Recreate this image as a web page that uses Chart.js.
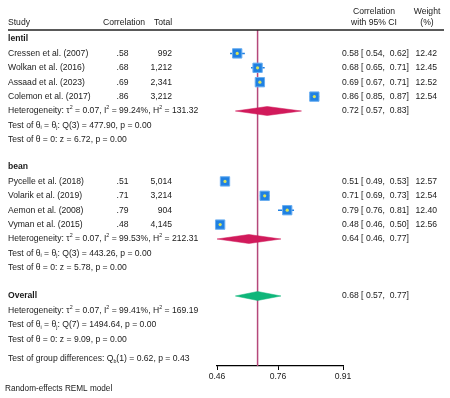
<!DOCTYPE html>
<html>
<head>
<meta charset="utf-8">
<script src="https://cdn.jsdelivr.net/npm/chart.js@4.4.1/dist/chart.umd.min.js"></script>
<style>
html, body { margin: 0; padding: 0; background: #fff; }
#wrap { position: relative; width: 450px; height: 398px; }
</style>
</head>
<body>
<div id="wrap"><canvas id="forest"></canvas></div>
<script>
// values
const lentilStudies = ['Cressen et al. (2007)', 'Wolkan et al. (2016)', 'Assaad et al. (2023)', 'Colemon et al. (2017)'];
const lentilR = [0.58, 0.68, 0.69, 0.86];
const lentilLo = [0.54, 0.65, 0.67, 0.85];
const lentilHi = [0.62, 0.71, 0.71, 0.87];
const lentilN = [992, 1212, 2341, 3212];
const lentilW = [12.42, 12.45, 12.52, 12.54];
const lentilPooled = [0.72, 0.57, 0.83];
const lentilStats = [
    'Heterogeneity: τ^{2} = 0.07, I^{2} = 99.24%, H^{2} = 131.32',
    'Test of θ_{i} = θ_{j}: Q(3) = 477.90, p = 0.00',
    'Test of θ = 0: z = 6.72, p = 0.00'
];

const beanStudies = ['Pycelle et al. (2018)', 'Volarik et al. (2019)', 'Aemon et al. (2008)', 'Vyman et al. (2015)'];
const beanR = [0.51, 0.71, 0.79, 0.48];
const beanLo = [0.49, 0.69, 0.76, 0.46];
const beanHi = [0.53, 0.73, 0.81, 0.50];
const beanN = [5014, 3214, 904, 4145];
const beanW = [12.57, 12.54, 12.40, 12.56];
const beanPooled = [0.64, 0.46, 0.77];
const beanStats = [
    'Heterogeneity: τ^{2} = 0.07, I^{2} = 99.53%, H^{2} = 212.31',
    'Test of θ_{i} = θ_{j}: Q(3) = 443.26, p = 0.00',
    'Test of θ = 0: z = 5.78, p = 0.00'
];

const overallPooled = [0.68, 0.57, 0.77];
const overallStats = [
    'Heterogeneity: τ^{2} = 0.07, I^{2} = 99.41%, H^{2} = 169.19',
    'Test of θ_{i} = θ_{j}: Q(7) = 1494.64, p = 0.00',
    'Test of θ = 0: z = 9.09, p = 0.00'
];
const groupTest = 'Test of group differences: Q_{b}(1) = 0.62, p = 0.43';
const footNote = 'Random-effects REML model';

const tickValues = [0.46, 0.76, 0.91];

// layout
const FONT = '"Liberation Sans", Arial, Helvetica, sans-serif';
const FS = 8.6;
const TEXT = '#1a1a1a';
const AREA_TOP = 30, AREA_BOTTOM = 366, FIRST_ROW = 39, ROW = 14.4;
const COL = { study: 8, corr: 128.5, total: 172, ci: 342, weight: 437 };
const SQUARE = '#1f80e2', DOT = '#d9e35a', LINE = '#b5487a';
const GROUP_COLOR = '#d11a5b', OVERALL_COLOR = '#0fb67a';

const z = v => Math.atanh(v);
const f2 = v => v.toFixed(2);
const ciText = p => `${f2(p[0])} [ ${f2(p[1])},  ${f2(p[2])}]`;

const rows = [];
const marks = [];
const diamonds = [];
let r = 0;

function addGroup(name, studies, est, lo, hi, n, w, pooled, stats) {
    rows.push({ r, cells: [[name, COL.study, 'left', true]] });
    r++;
    studies.forEach((s, i) => {
        rows.push({ r, cells: [
            [s, COL.study, 'left'],
            [f2(est[i]).replace(/^0/, ''), COL.corr, 'right'],
            [n[i].toLocaleString('en-US'), COL.total, 'right'],
            [ciText([est[i], lo[i], hi[i]]), COL.ci, 'left'],
            [f2(w[i]), COL.weight, 'right']
        ] });
        marks.push({ r, est: est[i], lo: lo[i], hi: hi[i] });
        r++;
    });
    rows.push({ r, cells: [[stats[0], COL.study, 'left'], [ciText(pooled), COL.ci, 'left']] });
    diamonds.push({ r, p: pooled, color: GROUP_COLOR });
    r++;
    rows.push({ r, cells: [[stats[1], COL.study, 'left']] }); r++;
    rows.push({ r, cells: [[stats[2], COL.study, 'left']] });
}

addGroup('lentil', lentilStudies, lentilR, lentilLo, lentilHi, lentilN, lentilW, lentilPooled, lentilStats);
r += 1.889;
addGroup('bean', beanStudies, beanR, beanLo, beanHi, beanN, beanW, beanPooled, beanStats);
r += 1.958;
rows.push({ r, cells: [['Overall', COL.study, 'left', true], [ciText(overallPooled), COL.ci, 'left']] });
diamonds.push({ r, p: overallPooled, color: OVERALL_COLOR });
overallStats.forEach(s => { r++; rows.push({ r, cells: [[s, COL.study, 'left']] }); });
r += 1.375;
rows.push({ r, cells: [[groupTest, COL.study, 'left']] });

const yMin = (AREA_TOP - FIRST_ROW) / ROW;
const yMax = (AREA_BOTTOM - FIRST_ROW) / ROW;
const DH = 4.5 / ROW;

function drawRich(ctx, text, x, y, align, bold, size) {
    const fs = size || FS;
    const segs = text.split(/(\^\{[^}]*\}|_\{[^}]*\})/).filter(s => s.length).map(p => {
        if (p.startsWith('^{')) return { t: p.slice(2, -1), size: fs * 0.62, dy: -fs * 0.38 };
        if (p.startsWith('_{')) return { t: p.slice(2, -1), size: fs * 0.62, dy: fs * 0.28 };
        return { t: p, size: fs, dy: 0 };
    });
    let total = 0;
    segs.forEach(s => {
        ctx.font = (bold ? 'bold ' : '') + s.size + 'px ' + FONT;
        s.w = ctx.measureText(s.t).width;
        total += s.w;
    });
    let cx = align === 'right' ? x - total : align === 'center' ? x - total / 2 : x;
    segs.forEach(s => {
        ctx.font = (bold ? 'bold ' : '') + s.size + 'px ' + FONT;
        ctx.fillText(s.t, cx, y + s.dy);
        cx += s.w;
    });
}

const tablePlugin = {
    id: 'tableText',
    afterDraw(chart) {
        const ctx = chart.ctx;
        const ys = chart.scales.y;
        ctx.save();
        ctx.fillStyle = TEXT;
        ctx.textAlign = 'left';
        ctx.textBaseline = 'middle';
        // header
        drawRich(ctx, 'Study', COL.study, 22.5, 'left');
        drawRich(ctx, 'Correlation', 103, 22.5, 'left');
        drawRich(ctx, 'Total', 154, 22.5, 'left');
        drawRich(ctx, 'Correlation', 374, 11.5, 'center');
        drawRich(ctx, 'with 95% CI', 374, 22.5, 'center');
        drawRich(ctx, 'Weight', 427, 11.5, 'center');
        drawRich(ctx, '(%)', 427, 22.5, 'center');
        ctx.strokeStyle = '#222';
        ctx.lineWidth = 1.3;
        ctx.beginPath();
        ctx.moveTo(8, 30);
        ctx.lineTo(444, 30);
        ctx.stroke();
        rows.forEach(row => {
            const y = ys.getPixelForValue(row.r);
            row.cells.forEach(c => drawRich(ctx, c[0], c[1], y, c[2], c[3]));
        });
        drawRich(ctx, footNote, 5, 389, 'left', false, 8.2);
        ctx.restore();
    }
};

new Chart(document.getElementById('forest'), {
    type: 'scatter',
    data: {
        datasets: [
            {
                label: 'centre',
                data: marks.map(m => ({ x: z(m.est), y: m.r })),
                pointStyle: 'circle',
                pointRadius: 1.6,
                backgroundColor: DOT,
                borderWidth: 0,
                order: 0,
                clip: false
            },
            {
                label: 'studies',
                data: marks.map(m => ({ x: z(m.est), y: m.r })),
                pointStyle: 'rect',
                pointRadius: 6.6,
                backgroundColor: SQUARE,
                borderColor: '#6aaef0',
                borderWidth: 1,
                order: 1,
                clip: false
            },
            {
                label: 'ci',
                data: marks.flatMap(m => [{ x: z(m.lo), y: m.r }, { x: z(m.hi), y: m.r }, { x: NaN, y: null }]),
                showLine: true,
                borderColor: SQUARE,
                borderWidth: 1.5,
                pointRadius: 0,
                order: 2,
                clip: false
            },
            ...diamonds.map(d => ({
                label: 'pooled',
                data: [
                    { x: z(d.p[1]), y: d.r },
                    { x: z(d.p[0]), y: d.r - DH },
                    { x: z(d.p[2]), y: d.r },
                    { x: z(d.p[0]), y: d.r + DH },
                    { x: z(d.p[1]), y: d.r }
                ],
                showLine: true,
                fill: 'shape',
                backgroundColor: d.color,
                borderColor: d.color,
                borderWidth: 0.5,
                pointRadius: 0,
                order: 3,
                clip: false
            })),
            {
                label: 'overall',
                data: [{ x: z(overallPooled[0]), y: yMin }, { x: z(overallPooled[0]), y: yMax }],
                showLine: true,
                borderColor: LINE,
                borderWidth: 1.5,
                pointRadius: 0,
                order: 5
            }
        ]
    },
    options: {
        responsive: true,
        maintainAspectRatio: false,
        animation: false,
        events: [],
        layout: { padding: { left: 217, right: 107, top: AREA_TOP, bottom: 0 } },
        plugins: {
            legend: { display: false },
            tooltip: { enabled: false }
        },
        scales: {
            x: {
                type: 'linear',
                min: z(tickValues[0]),
                max: z(tickValues[tickValues.length - 1]),
                afterBuildTicks: s => { s.ticks = tickValues.map(v => ({ value: z(v) })); },
                afterFit: s => { s.height = 32; },
                ticks: {
                    callback: (v, i) => f2(tickValues[i]),
                    font: { family: FONT, size: FS },
                    color: TEXT,
                    padding: 1,
                    maxRotation: 0,
                    autoSkip: false
                },
                grid: { drawOnChartArea: false, drawTicks: true, tickLength: 4, color: '#000', lineWidth: 1 },
                border: { display: true, color: '#000', width: 1.2 }
            },
            y: {
                type: 'linear',
                reverse: true,
                min: yMin,
                max: yMax,
                display: false
            }
        }
    },
    plugins: [tablePlugin]
});
</script>
</body>
</html>
